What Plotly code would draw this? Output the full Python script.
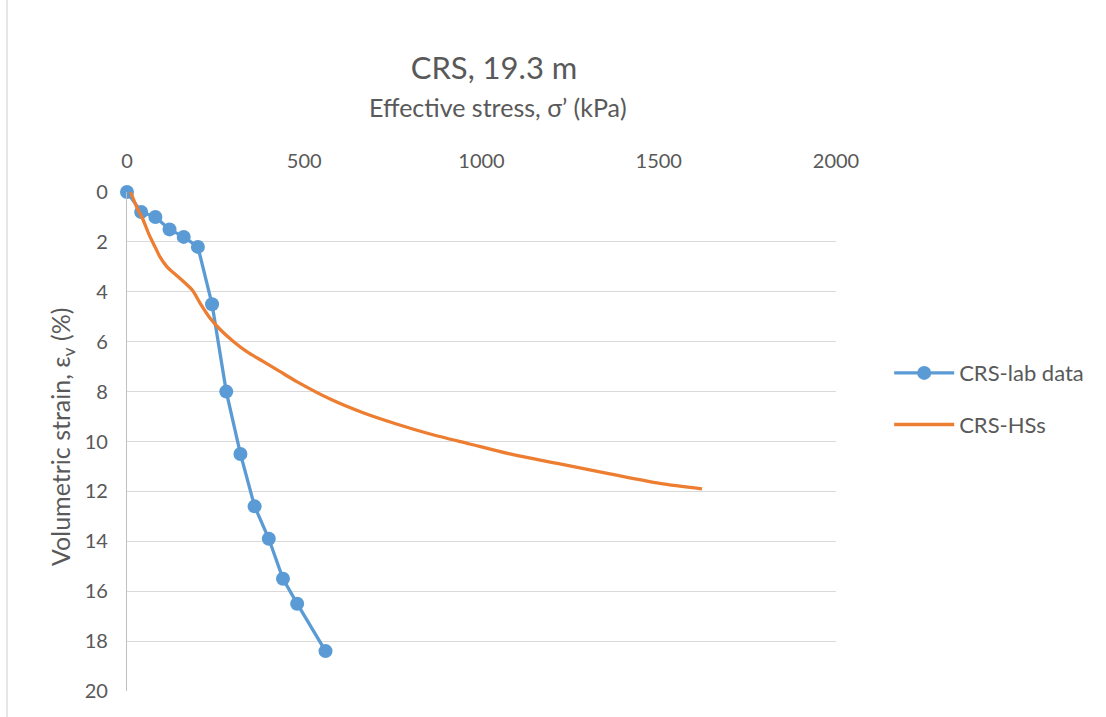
import plotly.graph_objects as go

# CRS-lab data
lab_stress = [0, 40, 80, 120, 160, 200, 240, 280, 320, 360, 400, 440, 480, 560]
lab_strain = [0, 0.8, 1.0, 1.5, 1.8, 2.2, 4.5, 8.0, 10.5, 12.6, 13.9, 15.5, 16.5, 18.4]

# CRS-HSs model curve
hs_stress = [10, 27, 45, 62, 79, 93, 113, 140, 160, 185, 206, 234, 262, 301, 338, 385, 432, 479,
             573, 666, 760, 855, 967, 1080, 1221, 1362, 1503, 1622]
hs_strain = [0, 0.59, 1.1, 1.7, 2.2, 2.6, 3.0, 3.35, 3.6, 3.95, 4.45, 5.05, 5.5, 6.0, 6.4, 6.8, 7.2, 7.6,
             8.3, 8.85, 9.3, 9.7, 10.1, 10.5, 10.9, 11.3, 11.68, 11.9]

x_ticks = [0, 500, 1000, 1500, 2000]
y_ticks = [0, 2, 4, 6, 8, 10, 12, 14, 16, 18, 20]

FONT = "Lato"
TXT = "#595959"

fig = go.Figure()
fig.add_trace(go.Scatter(
    x=lab_stress, y=lab_strain, mode="lines+markers", name="CRS-lab data",
    line=dict(color="#5B9BD5", width=3.3), marker=dict(color="#5B9BD5", size=14),
    legendgroup="a", cliponaxis=False))
fig.add_trace(go.Scatter(
    x=hs_stress, y=hs_strain, mode="lines", name="CRS-HSs",
    line=dict(color="#ED7D31", width=3.3, shape="spline", smoothing=0.8),
    legendgroup="b", cliponaxis=False))

fig.update_layout(
    width=1106, height=717,
    margin=dict(l=127, r=270, t=192, b=26),
    paper_bgcolor="white", plot_bgcolor="white",
    font=dict(family=FONT, color=TXT, size=20),
    title=dict(text="CRS, 19.3 m", x=494 / 1106, xanchor="center",
               y=1 - 68 / 717, yanchor="middle", yref="container",
               font=dict(size=31, color=TXT, family=FONT)),
    showlegend=True,
    legend=dict(x=1.075, y=0.585, xanchor="left", yanchor="middle",
                font=dict(size=22, color=TXT), tracegroupgap=20,
                traceorder="grouped", itemwidth=60),
    xaxis=dict(side="top", range=[0, 2000], tickvals=x_ticks,
               showgrid=False, zeroline=False, showline=False,
               ticks="", ticklabelstandoff=19,
               tickfont=dict(size=20, color=TXT)),
    yaxis=dict(range=[20, 0], tickvals=y_ticks, showgrid=True,
               gridcolor="#D9D9D9", gridwidth=1.3, zeroline=False,
               showline=True, linecolor="#BFBFBF", linewidth=1.3,
               ticks="", ticklabelstandoff=14,
               tickfont=dict(size=20, color=TXT)),
)

fig.add_annotation(text="Effective stress, σ’ (kPa)", xref="paper", yref="paper",
                   x=(498 - 127) / 709, y=(691 - 107) / 499,
                   xanchor="center", yanchor="middle", showarrow=False,
                   font=dict(size=25, color=TXT, family=FONT))

fig.add_annotation(text="Volumetric strain, ε<sub>v</sub> (%)", xref="paper", yref="paper",
                   x=(62 - 127) / 709, y=(691 - 437) / 499, textangle=-90,
                   xanchor="center", yanchor="middle", showarrow=False,
                   font=dict(size=25, color=TXT, family=FONT))

fig.add_shape(type="line", xref="paper", yref="paper",
              x0=(7 - 127) / 709, x1=(7 - 127) / 709, y0=-26 / 499, y1=1 + 192 / 499,
              line=dict(color="#D9D9D9", width=1.3))

fig.write_html("out.html")
